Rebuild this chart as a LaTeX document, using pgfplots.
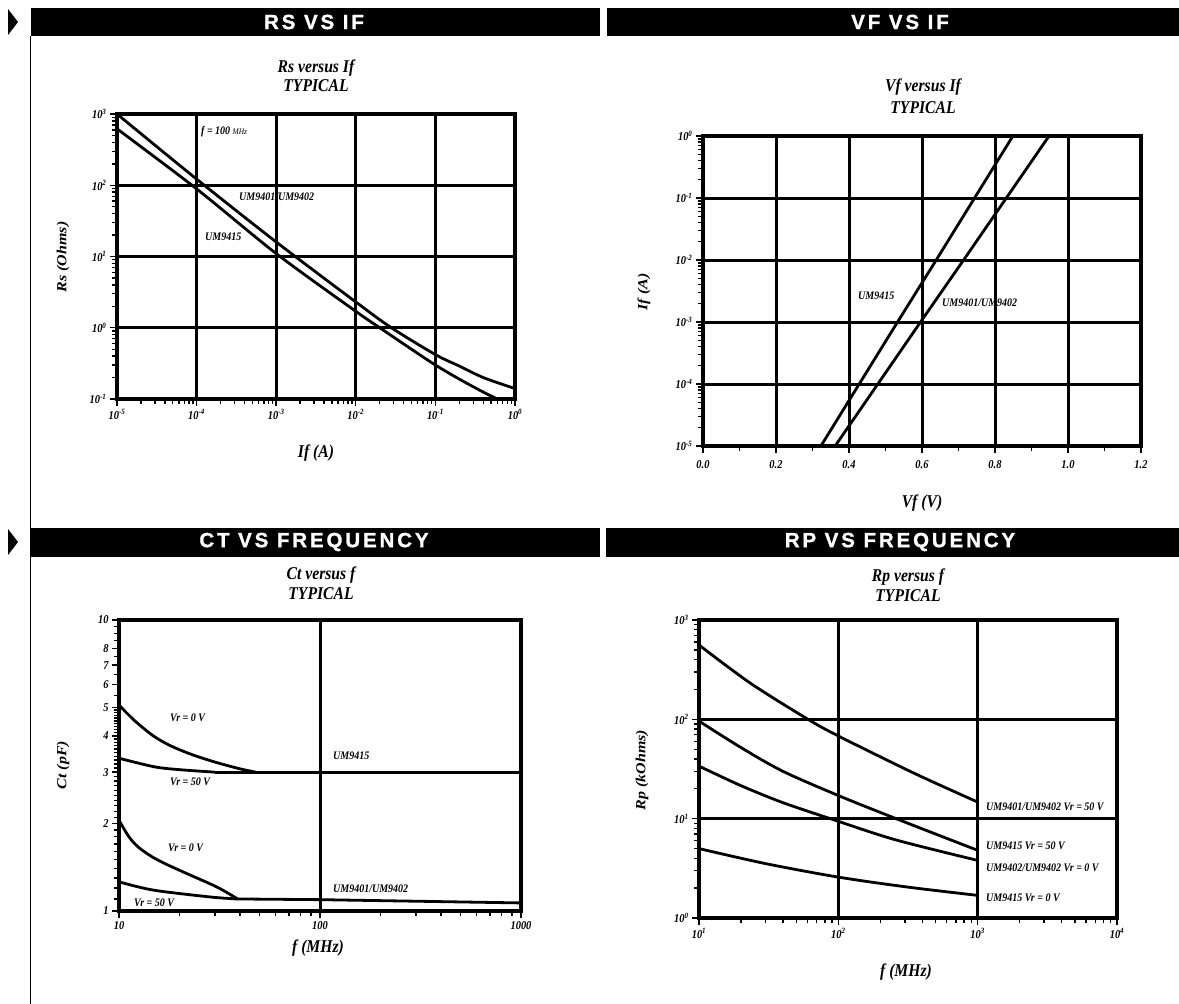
\documentclass[border=0pt]{standalone}
\usepackage{fontspec}
\usepackage{graphicx}
\usepackage{pgfplots}
\pgfplotsset{compat=1.18}
\setmainfont{Liberation Serif}[FakeStretch=0.87]
\newfontfamily\headfont{Liberation Sans}[LetterSpace=14, FakeBold=1.2]
\newfontfamily\rotfont{Liberation Serif}

\newcommand\tp[1]{10\textsuperscript{#1}}
\newcommand\ticklab{\fontsize{12}{12}\selectfont\bfseries\itshape}
\newcommand\ann{\fontsize{11.5}{11.5}\selectfont\bfseries\itshape}
\newcommand\hdr{\headfont\fontsize{20.5}{20.5}\selectfont\bfseries}
\newcommand\ylab[1]{\scalebox{1}[0.87]{\rotfont\fontsize{16}{16}\selectfont\bfseries\itshape #1}}

\pgfplotsset{
  panel/.style={
    scale only axis, anchor=south west,
    axis line style={line width=3.2pt},
    grid style={line width=3pt, black},
    major grid style={line width=3pt, black},
    tick style={line width=1.4pt, black},
    tick align=outside, tick pos=left,
    major tick length=7pt, minor tick length=5pt,
    ticklabel style={font=\ticklab},
  },
  curve/.style={black, line width=2.8pt, mark=none},
}

\begin{document}
\begin{tikzpicture}
\path[use as bounding box] (0,0) rectangle (1179pt,-1004pt);

% section headers
\fill (8pt,-9pt) -- (18pt,-22pt) -- (8pt,-35pt) -- cycle;
\fill (8pt,-529pt) -- (18pt,-542pt) -- (8pt,-555pt) -- cycle;
\draw[line width=1.6pt] (30.5pt,-36pt) -- (30.5pt,-1004pt);
\fill (31pt,-8pt) rectangle (600pt,-36pt);
\fill (607pt,-8pt) rectangle (1179pt,-36pt);
\fill (31pt,-528pt) rectangle (600pt,-557pt);
\fill (606pt,-528pt) rectangle (1179pt,-557pt);
\node[text=white, font=\hdr] at (314pt,-22pt) {RS VS IF};
\node[text=white, font=\hdr] at (900pt,-22pt) {VF VS IF};
\node[text=white, font=\hdr] at (314pt,-542pt) {CT VS FREQUENCY};
\node[text=white, font=\hdr] at (900pt,-542pt) {RP VS FREQUENCY};

% ---------------- Rs versus If ----------------
\begin{axis}[panel, at={(117pt,-399pt)}, width=398pt, height=285pt,
  xmode=log, ymode=log, xmin=1e-5, xmax=1, ymin=0.1, ymax=1000,
  grid=major,
  xtick={1e-5,1e-4,1e-3,1e-2,1e-1,1},
  xticklabels={\tp{-5},\tp{-4},\tp{-3},\tp{-2},\tp{-1},\tp{0}},
  ytick={0.1,1,10,100,1000},
  yticklabels={\tp{-1},\tp{0},\tp{1},\tp{2},\tp{3}},
  minor xtick={2e-5,3e-5,4e-5,5e-5,6e-5,7e-5,8e-5,9e-5,2e-4,3e-4,4e-4,5e-4,6e-4,7e-4,8e-4,9e-4,2e-3,3e-3,4e-3,5e-3,6e-3,7e-3,8e-3,9e-3,0.02,0.03,0.04,0.05,0.06,0.07,0.08,0.09,0.2,0.3,0.4,0.5,0.6,0.7,0.8,0.9},
  minor ytick={0.2,0.3,0.4,0.5,0.6,0.7,0.8,0.9,2,3,4,5,6,7,8,9,20,30,40,50,60,70,80,90,200,300,400,500,600,700,800,900},
]
% UM9401/UM9402
\addplot[curve, smooth] coordinates {(1e-5,1000) (1e-4,122) (1e-3,16) (1e-2,2.3) (2.8e-2,1.0) (1e-1,0.42) (0.2,0.29) (0.4,0.2) (1,0.14)};
% UM9415
\addplot[curve, smooth] coordinates {(1e-5,620) (1e-4,89) (1e-3,11) (1e-2,1.7) (2e-2,1.0) (5e-2,0.5) (1e-1,0.3) (0.2,0.19) (0.4,0.125) (0.6,0.1) (1,0.075)};
\end{axis}
\node[font=\fontsize{18}{19}\selectfont\bfseries\itshape, align=center] at (316pt,-76pt) {Rs versus If\\TYPICAL};
\node[font=\fontsize{18}{18}\selectfont\bfseries\itshape] at (316pt,-453pt) {If (A)};
\node[rotate=90] at (63pt,-257pt) {\ylab{Rs (Ohms)}};
\node[font=\ann, anchor=west, inner sep=0pt] at (201pt,-132pt) {f = 100 {\fontsize{8.5}{8.5}\selectfont\mdseries MHz}};
\node[font=\ann, anchor=west, inner sep=0pt] at (239pt,-197pt) {UM9401/UM9402};
\node[font=\ann, anchor=west, inner sep=0pt] at (205pt,-237pt) {UM9415};

% ---------------- Vf versus If ----------------
\begin{axis}[panel, at={(703pt,-446pt)}, width=438pt, height=310pt,
  ymode=log, xmin=0, xmax=1.2, ymin=1e-5, ymax=1,
  grid=major,
  xtick={0,0.2,0.4,0.6,0.8,1.0,1.2},
  xticklabels={0.0,0.2,0.4,0.6,0.8,1.0,1.2},
  minor xtick={0.1,0.3,0.5,0.7,0.9,1.1},
  ytick={1e-5,1e-4,1e-3,1e-2,1e-1,1},
  yticklabels={\tp{-5},\tp{-4},\tp{-3},\tp{-2},\tp{-1},\tp{0}},
  minor ytick={2e-5,3e-5,4e-5,5e-5,6e-5,7e-5,8e-5,9e-5,2e-4,3e-4,4e-4,5e-4,6e-4,7e-4,8e-4,9e-4,2e-3,3e-3,4e-3,5e-3,6e-3,7e-3,8e-3,9e-3,0.02,0.03,0.04,0.05,0.06,0.07,0.08,0.09,0.2,0.3,0.4,0.5,0.6,0.7,0.8,0.9},
  xticklabel style={yshift=-4pt},
]
% UM9415
\addplot[curve] coordinates {(0.323,1e-5) (0.428,1e-4) (0.533,1e-3) (0.639,1e-2) (0.744,1e-1) (0.849,1)};
% UM9401/UM9402
\addplot[curve] coordinates {(0.362,1e-5) (0.479,1e-4) (0.596,1e-3) (0.714,1e-2) (0.831,1e-1) (0.948,1)};
\end{axis}
\node[font=\fontsize{18}{22}\selectfont\bfseries\itshape, align=center] at (923pt,-96pt) {Vf versus If\\TYPICAL};
\node[font=\fontsize{18}{18}\selectfont\bfseries\itshape] at (922pt,-503pt) {Vf (V)};
\node[rotate=90] at (644pt,-292pt) {\ylab{If (A)}};
\node[font=\ann, anchor=west, inner sep=0pt] at (858pt,-296pt) {UM9415};
\node[font=\ann, anchor=west, inner sep=0pt] at (942pt,-303pt) {UM9401/UM9402};

% ---------------- Ct versus f ----------------
\begin{axis}[panel, at={(119pt,-911pt)}, width=402pt, height=291pt,
  xmode=log, ymode=log, xmin=10, xmax=1000, ymin=1, ymax=10,
  grid=major, ymajorgrids=false,
  xtick={10,100,1000}, xticklabels={10,100,1000},
  minor xtick={20,30,40,50,60,70,80,90,200,300,400,500,600,700,800,900},
  ytick={1,2,3,4,5,6,7,8,10}, yticklabels={1,2,3,4,5,6,7,8,10},
  minor ytick={1.1,1.2,1.3,1.4,1.5,1.6,1.7,1.8,1.9,2.1,2.2,2.3,2.4,2.5,2.6,2.7,2.8,2.9,3.1,3.2,3.3,3.4,3.5,3.6,3.7,3.8,3.9,4.1,4.2,4.3,4.4,4.5,4.6,4.7,4.8,4.9,5.5,6.5,7.5,8.5,9,9.5},
]
% UM9415, Vr = 0 V
\addplot[curve, smooth] coordinates {(10,5.1) (12,4.5) (14.8,4.0) (18,3.7) (23,3.45) (30,3.25) (40,3.08) (48,3.0)};
% UM9415, Vr = 50 V
\addplot[curve, smooth] coordinates {(10,3.35) (15,3.13) (20,3.06) (30,3.0)};
\addplot[curve] coordinates {(30,3.0) (100,3.0) (1000,3.0)};
% UM9401/UM9402, Vr = 0 V
\addplot[curve, smooth] coordinates {(10,2.05) (11.2,1.8) (12.45,1.66) (14.5,1.54) (16.9,1.456) (22,1.34) (29.9,1.22) (35,1.15) (38.9,1.10)};
% UM9401/UM9402, Vr = 50 V
\addplot[curve, smooth] coordinates {(10,1.26) (14.8,1.18) (28.6,1.117) (38.9,1.10)};
\addplot[curve] coordinates {(38.9,1.10) (100,1.094) (1000,1.066)};
\end{axis}
\node[font=\fontsize{18}{20}\selectfont\bfseries\itshape, align=center] at (321pt,-583pt) {Ct versus f\\TYPICAL};
\node[font=\fontsize{18}{18}\selectfont\bfseries\itshape] at (318pt,-948pt) {f (MHz)};
\node[rotate=90] at (63pt,-765pt) {\ylab{Ct (pF)}};
\node[font=\ann, anchor=west, inner sep=0pt] at (170pt,-718pt) {Vr = 0 V};
\node[font=\ann, anchor=west, inner sep=0pt] at (170pt,-782pt) {Vr = 50 V};
\node[font=\ann, anchor=west, inner sep=0pt] at (333pt,-756pt) {UM9415};
\node[font=\ann, anchor=west, inner sep=0pt] at (168pt,-848pt) {Vr = 0 V};
\node[font=\ann, anchor=west, inner sep=0pt] at (333pt,-889pt) {UM9401/UM9402};
\node[font=\ann, anchor=west, inner sep=0pt] at (134pt,-903pt) {Vr = 50 V};

% ---------------- Rp versus f ----------------
\begin{axis}[panel, at={(699pt,-918pt)}, width=418pt, height=298pt,
  xmode=log, ymode=log, xmin=10, xmax=10000, ymin=1, ymax=1000,
  grid=major,
  xtick={10,100,1000,10000}, xticklabels={\tp{1},\tp{2},\tp{3},\tp{4}},
  ytick={1,10,100,1000}, yticklabels={\tp{0},\tp{1},\tp{2},\tp{3}},
  minor xtick={20,30,40,50,60,70,80,90,200,300,400,500,600,700,800,900,2000,3000,4000,5000,6000,7000,8000,9000},
  minor ytick={2,3,4,5,6,7,8,9,20,30,40,50,60,70,80,90,200,300,400,500,600,700,800,900},
]
% UM9401/UM9402, Vr = 50 V
\addplot[curve, smooth] coordinates {(10,560) (23.5,230) (60.6,100) (100,68) (355,28.4) (1000,14.7)};
% UM9415, Vr = 50 V
\addplot[curve, smooth] coordinates {(10,96) (20,52) (40,30) (100,17.1) (260,10) (1000,4.8)};
% UM9401/UM9402, Vr = 0 V
\addplot[curve, smooth] coordinates {(10,33.8) (20,21.5) (40,14.5) (100,9.4) (260,6.1) (1000,3.8)};
% UM9415, Vr = 0 V
\addplot[curve, smooth] coordinates {(10,5.0) (30,3.53) (100,2.58) (313,2.05) (1000,1.69)};
\end{axis}
\node[font=\fontsize{18}{20}\selectfont\bfseries\itshape, align=center] at (908pt,-585pt) {Rp versus f\\TYPICAL};
\node[font=\fontsize{18}{18}\selectfont\bfseries\itshape] at (906pt,-972pt) {f (MHz)};
\node[rotate=90] at (642pt,-770pt) {\ylab{Rp (kOhms)}};
\node[font=\ann, anchor=west, inner sep=0pt] at (986pt,-807pt) {UM9401/UM9402 Vr = 50 V};
\node[font=\ann, anchor=west, inner sep=0pt] at (986pt,-846pt) {UM9415 Vr = 50 V};
\node[font=\ann, anchor=west, inner sep=0pt] at (986pt,-868pt) {UM9402/UM9402 Vr = 0 V};
\node[font=\ann, anchor=west, inner sep=0pt] at (986pt,-898pt) {UM9415 Vr = 0 V};
\end{tikzpicture}
\end{document}
